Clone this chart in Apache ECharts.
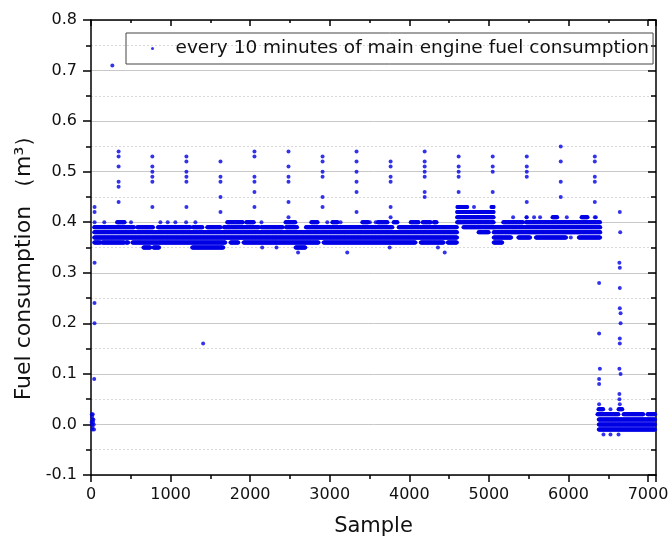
<!DOCTYPE html>
<html>
<head>
<meta charset="utf-8">
<script src="https://cdn.jsdelivr.net/npm/echarts@6/dist/echarts.min.js"></script>
<style>
  html, body { margin: 0; padding: 0; background: #fff; }
  #chart { width: 672px; height: 538px; }
</style>
</head>
<body>
<div id="chart"></div>
<script>
// runs of samples sitting on one level: [level, firstSample, lastSample]
const bandRuns = [
  // first part, samples 40 - 4600
  [0.38, 40, 4600],
  [0.37, 40, 4600],
  [0.39, 40, 540], [0.39, 580, 780], [0.39, 840, 1250], [0.39, 1280, 1400], [0.39, 1460, 1630],
  [0.39, 1670, 2110], [0.39, 2140, 2410], [0.39, 2450, 2590], [0.39, 2700, 3790], [0.39, 3866, 4600],
  [0.36, 40, 120], [0.36, 140, 420], [0.36, 440, 470], [0.36, 520, 1690], [0.36, 1752, 1853],
  [0.36, 1916, 2860], [0.36, 2922, 4080], [0.36, 4143, 4432], [0.36, 4482, 4600],
  [0.40, 45, 45], [0.40, 167, 167], [0.40, 327, 423], [0.40, 503, 503], [0.40, 872, 872],
  [0.40, 964, 964], [0.40, 1060, 1060], [0.40, 1195, 1195], [0.40, 1312, 1312], [0.40, 1711, 1907],
  [0.40, 1950, 2046], [0.40, 2142, 2142], [0.40, 2444, 2570], [0.40, 2768, 2851], [0.40, 2969, 2969],
  [0.40, 3032, 3102], [0.40, 3136, 3136], [0.40, 3409, 3485], [0.40, 3505, 3505], [0.40, 3577, 3577],
  [0.40, 3602, 3727], [0.40, 3803, 3853], [0.40, 4017, 4118], [0.40, 4168, 4269], [0.40, 4307, 4345],
  [0.35, 658, 746], [0.35, 784, 859], [0.35, 1271, 1664], [0.35, 2151, 2151], [0.35, 2331, 2331],
  [0.35, 2570, 2696], [0.35, 3753, 3753], [0.35, 4360, 4360],
  [0.34, 2602, 2602], [0.34, 3220, 3220], [0.34, 4445, 4445],
  // raised part, samples 4600 - 5060
  [0.43, 4604, 4730], [0.43, 4813, 4813], [0.43, 5032, 5060],
  [0.42, 4600, 4856], [0.42, 4872, 4935], [0.42, 4948, 5060],
  [0.41, 4600, 5060],
  [0.40, 4600, 5060],
  [0.39, 4680, 5060],
  [0.38, 4870, 5000],
  // third part, samples 5060 - 6400
  [0.41, 5304, 5304], [0.41, 5472, 5472], [0.41, 5568, 5568], [0.41, 5643, 5643], [0.41, 5799, 5862],
  [0.41, 5979, 5979], [0.41, 6164, 6240], [0.41, 6344, 6344],
  [0.40, 5180, 5430], [0.40, 5465, 6400],
  [0.39, 5060, 6400],
  [0.38, 5060, 6400],
  [0.37, 5060, 5280], [0.37, 5370, 5520], [0.37, 5590, 5970], [0.37, 6030, 6030], [0.37, 6130, 6400],
  [0.36, 5060, 5170],
  // engine stopped, samples 6380 - 7090
  [0.03, 6377, 6440], [0.03, 6528, 6528], [0.03, 6629, 6679],
  [0.02, 6364, 6629], [0.02, 6692, 6943], [0.02, 6993, 7090],
  [0.01, 6380, 7090],
  [0.00, 6380, 7090],
  [-0.01, 6380, 7090],
  [-0.02, 6440, 6440], [-0.02, 6528, 6528], [-0.02, 6629, 6629]
];
const runStep = 4;

// vertical spikes of high readings
const spikeSamples = [347, 771, 1199, 1627, 2054, 2482, 2910, 3337, 3765, 4193, 4620, 5048, 5476, 5903, 6331];
const spikeValues = [
  [0.54, 0.53, 0.51, 0.48, 0.47, 0.44],
  [0.53, 0.51, 0.50, 0.49, 0.48, 0.43],
  [0.53, 0.52, 0.50, 0.49, 0.48, 0.43],
  [0.52, 0.49, 0.48, 0.45, 0.42],
  [0.54, 0.53, 0.49, 0.48, 0.46, 0.43],
  [0.54, 0.51, 0.49, 0.48, 0.44, 0.41],
  [0.53, 0.52, 0.50, 0.49, 0.45, 0.43],
  [0.54, 0.52, 0.50, 0.48, 0.46, 0.42],
  [0.52, 0.51, 0.49, 0.48, 0.43, 0.41],
  [0.54, 0.52, 0.51, 0.50, 0.49, 0.46, 0.45],
  [0.53, 0.51, 0.50, 0.49, 0.46],
  [0.53, 0.51, 0.50, 0.46, 0.43],
  [0.53, 0.51, 0.50, 0.49, 0.44, 0.41],
  [0.55, 0.52, 0.48, 0.45],
  [0.53, 0.52, 0.49, 0.48, 0.44, 0.41]
];

// single readings off the bands: [sample, value]
const outliers = [
  [10, 0.02], [22, 0.02], [14, 0.015], [30, 0.01], [18, 0.01], [8, 0.005], [26, 0.005],
  [12, 0.0], [34, 0.0], [20, -0.005], [16, -0.01], [38, -0.01],
  [40, 0.09], [44, 0.20], [44, 0.24], [45, 0.32], [45, 0.42], [45, 0.43],
  [268, 0.71], [1409, 0.16],
  [6385, 0.28], [6385, 0.18], [6395, 0.11], [6385, 0.09], [6385, 0.08], [6385, 0.04],
  [6645, 0.42], [6650, 0.38], [6640, 0.32], [6645, 0.31], [6645, 0.27], [6645, 0.23],
  [6655, 0.22], [6655, 0.20], [6645, 0.17], [6645, 0.16], [6640, 0.11], [6655, 0.10],
  [6640, 0.06], [6640, 0.05], [6645, 0.04]
];

const seriesName = 'every 10 minutes of main engine fuel consumption';

var points = [];
bandRuns.forEach(function (r) {
  for (var s = r[1]; s <= r[2]; s += runStep) points.push([s, r[0]]);
});
spikeSamples.forEach(function (s, i) {
  spikeValues[i].forEach(function (v) { points.push([s, v]); });
});
outliers.forEach(function (p) { points.push(p); });

var font = 'DejaVu Sans';
var black = '#111';
var axisLine = { show: true, onZero: false, lineStyle: { color: '#000', width: 1.5 } };

var myChart = echarts.init(document.getElementById('chart'));
var option = {
  animation: false,
  backgroundColor: '#fff',
  grid: { left: 91, right: 16, top: 20, bottom: 63, outerBoundsMode: 'none' },
  legend: {
    data: [seriesName],
    left: 126,
    top: 33,
    padding: [6, 4, 6, 25],
    borderColor: '#444',
    borderWidth: 1,
    itemWidth: 36,
    itemHeight: 3,
    icon: 'circle',
    textStyle: { fontSize: 18.5, fontFamily: font, color: black }
  },
  xAxis: [
    {
      type: 'value', position: 'bottom',
      min: 0, max: 7100, interval: 1000,
      axisLine: axisLine,
      axisTick: { show: true, length: 7, lineStyle: { color: '#000', width: 1.5 } },
      minorTick: { show: true, splitNumber: 2, length: 4, lineStyle: { color: '#000', width: 1.5 } },
      axisLabel: {
        showMaxLabel: false, fontSize: 16, fontFamily: font, color: black, margin: 12,
        formatter: function (v) { return String(v); }
      },
      splitLine: { show: false },
      name: 'Sample', nameLocation: 'middle', nameGap: 41,
      nameTextStyle: { fontSize: 21, fontFamily: font, color: black }
    },
    {
      type: 'value', position: 'top',
      min: 0, max: 7100, interval: 1000,
      axisLine: axisLine,
      axisTick: { show: true, inside: true, length: 6, lineStyle: { color: '#000', width: 1.5 } },
      minorTick: { show: true, splitNumber: 2, length: 3, lineStyle: { color: '#000', width: 1.5 } },
      axisLabel: { show: false },
      splitLine: { show: false }
    }
  ],
  yAxis: [
    {
      type: 'value', position: 'left',
      min: -0.1, max: 0.8, interval: 0.1,
      axisLine: axisLine,
      axisTick: { show: true, length: 8, lineStyle: { color: '#000', width: 1.5 } },
      minorTick: { show: true, splitNumber: 2, length: 5, lineStyle: { color: '#000', width: 1.5 } },
      splitLine: { show: true, lineStyle: { color: '#c8c8c8', width: 1 } },
      minorSplitLine: { show: true, lineStyle: { color: '#d8d8d8', width: 1, type: [2, 2] } },
      axisLabel: {
        fontSize: 16, fontFamily: font, color: black, margin: 14,
        formatter: function (v) { return v.toFixed(1); }
      },
      name: 'Fuel consumption （m³）', nameLocation: 'middle', nameGap: 52,
      nameTextStyle: { fontSize: 22, fontFamily: font, color: black, padding: [0, 30, 0, 0] }
    },
    {
      type: 'value', position: 'right',
      min: -0.1, max: 0.8, interval: 0.1,
      axisLine: axisLine,
      axisTick: { show: true, inside: true, length: 8, lineStyle: { color: '#000', width: 1.5 } },
      minorTick: { show: true, splitNumber: 2, length: 5, lineStyle: { color: '#000', width: 1.5 } },
      axisLabel: { show: false },
      splitLine: { show: false }
    }
  ],
  series: [
    {
      name: seriesName,
      type: 'scatter',
      xAxisIndex: 0,
      yAxisIndex: 0,
      symbol: 'circle',
      symbolSize: 4,
      silent: true,
      itemStyle: { color: '#0000e6' },
      data: points
    }
  ]
};
myChart.setOption(option);
</script>
</body>
</html>
